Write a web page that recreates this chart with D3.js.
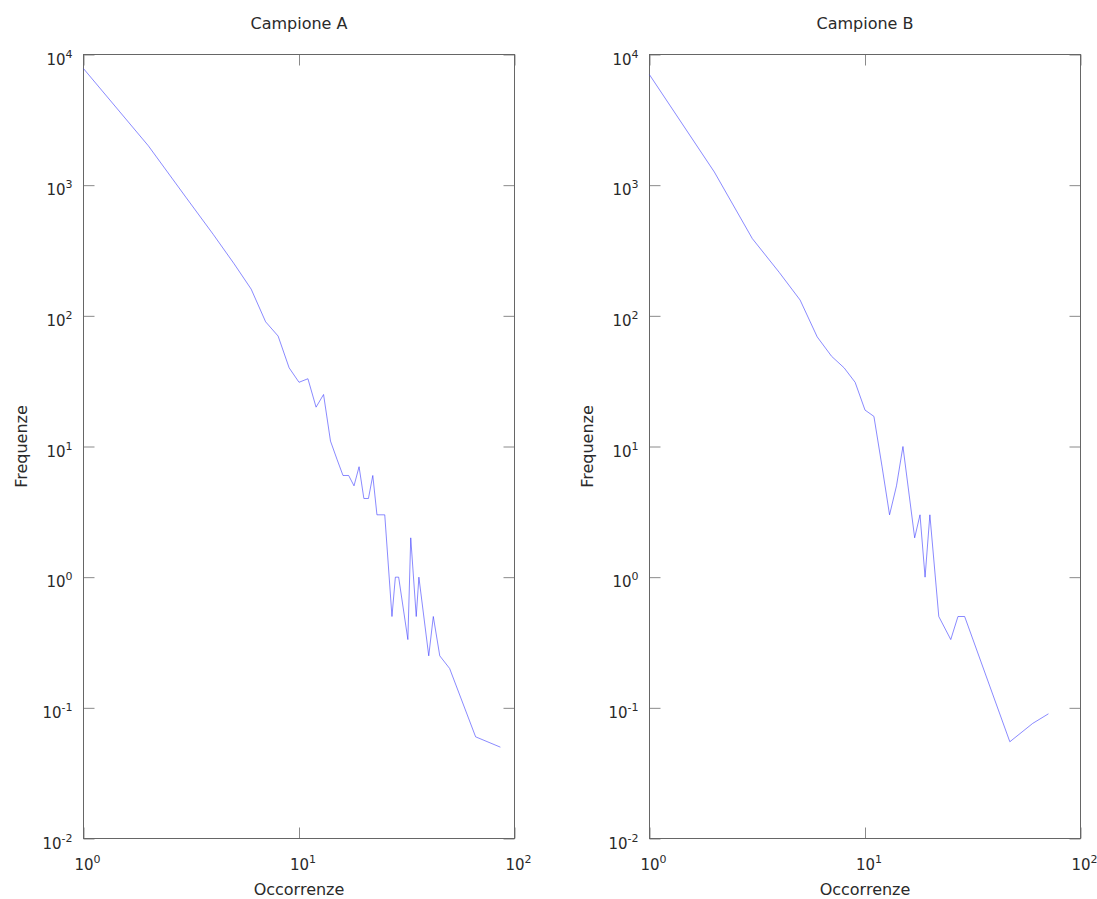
<!DOCTYPE html>
<html>
<head>
<meta charset="utf-8">
<script src="https://cdn.jsdelivr.net/npm/d3@7"></script>
<style>
  html, body { margin: 0; padding: 0; background: #fff; }
  svg { display: block; }
  text { font-family: "DejaVu Sans", sans-serif; fill: #2a2a2a; }
</style>
</head>
<body>
<svg id="chart" width="1097" height="899"></svg>
<script>
// ---- data ----
const titles = ["Campione A", "Campione B"];
const xLabel = "Occorrenze";
const yLabel = "Frequenze";
const xTickExps = [0, 1, 2];
const yTickExps = [-2, -1, 0, 1, 2, 3, 4];

const occA = [1,2,3,4,5,6,7,8,9,10,11,12,13,14,15,16,17,18,19,20,21,22,23,25,27,28,29,32,33,35,36,40,42,45,50,66,86];
const freqA = [7800,2000,800,420,250,160,90,70,40,31,33,20,25,11,8,6,6,5,7,4,4,6,3,3,0.5,1,1,0.333,2,0.5,1,0.25,0.5,0.25,0.2,0.06,0.05];

const occB = [1,2,3,4,5,6,7,8,9,10,11,12,13,14,15,17,18,19,20,22,25,27,29,47,60,71];
const freqB = [7000,1260,390,215,132,69,49,40,31,19,17,7,3,5,10,2,3,1,3,0.5,0.333,0.5,0.5,0.055,0.076,0.09];

// ---- layout ----
const svg = d3.select("#chart");
const plotTop = 54.5, plotBottom = 838.5;
const panels = [
  { left: 83.5, right: 514.5, x: occA, y: freqA, title: titles[0] },
  { left: 649.5, right: 1080.5, x: occB, y: freqB, title: titles[1] }
];

panels.forEach(p => {
  const xs = d3.scaleLog().domain([1, 100]).range([p.left, p.right]);
  const ys = d3.scaleLog().domain([0.01, 10000]).range([plotBottom, plotTop]);
  const g = svg.append("g");
  const tickLen = 11;

  const xTicks = xTickExps.map(e => Math.pow(10, e));
  const yTicks = yTickExps.map(e => Math.pow(10, e));

  const axB = d3.axisBottom(xs).tickValues(xTicks).tickSizeInner(-tickLen).tickSizeOuter(0).tickFormat("");
  const axT = d3.axisTop(xs).tickValues(xTicks).tickSizeInner(-tickLen).tickSizeOuter(0).tickFormat("");
  const axL = d3.axisLeft(ys).tickValues(yTicks).tickSizeInner(-tickLen).tickSizeOuter(0).tickFormat("");
  const axR = d3.axisRight(ys).tickValues(yTicks).tickSizeInner(-tickLen).tickSizeOuter(0).tickFormat("");
  [[axB, `translate(0,${plotBottom})`], [axT, `translate(0,${plotTop})`],
   [axL, `translate(${p.left},0)`], [axR, `translate(${p.right},0)`]].forEach(([ax, tr]) => {
    const a = g.append("g").attr("transform", tr).call(ax);
    a.select(".domain").remove();
    a.selectAll(".tick line").attr("stroke", "#8a8a8a").attr("stroke-width", 1);
  });

  g.append("rect")
    .attr("x", p.left).attr("y", plotTop)
    .attr("width", p.right - p.left).attr("height", plotBottom - plotTop)
    .attr("fill", "none").attr("stroke", "#666").attr("stroke-width", 1);

  yTickExps.forEach(e => {
    const t = g.append("text")
      .attr("x", p.left - 11).attr("y", ys(Math.pow(10, e)) + 10)
      .attr("text-anchor", "end").style("font-size", "15px");
    t.append("tspan").text("10");
    t.append("tspan").attr("dy", -7).style("font-size", "11px").text(String(e));
  });
  xTickExps.forEach(e => {
    const t = g.append("text")
      .attr("x", xs(Math.pow(10, e)) + 4).attr("y", plotBottom + 31)
      .attr("text-anchor", "middle").style("font-size", "15px");
    t.append("tspan").text("10");
    t.append("tspan").attr("dy", -7).style("font-size", "11px").text(String(e));
  });

  const pts = p.x.map((v, i) => [v, p.y[i]]);
  const line = d3.line().x(d => xs(d[0])).y(d => ys(d[1]));
  g.append("path").datum(pts)
    .attr("d", line).attr("fill", "none")
    .attr("stroke", "#3a3aff").attr("stroke-width", 0.6);

  const cx = (p.left + p.right) / 2;
  g.append("text").attr("x", cx).attr("y", 29).attr("text-anchor", "middle")
    .style("font-size", "16px").text(p.title);
  g.append("text").attr("x", cx).attr("y", 895).attr("text-anchor", "middle")
    .style("font-size", "16px").text(xLabel);
  g.append("text")
    .attr("transform", `translate(${p.left - 62},${(plotTop + plotBottom) / 2}) rotate(-90)`)
    .attr("text-anchor", "middle").attr("dy", "0.35em")
    .style("font-size", "16px").text(yLabel);
});
</script>
</body>
</html>
